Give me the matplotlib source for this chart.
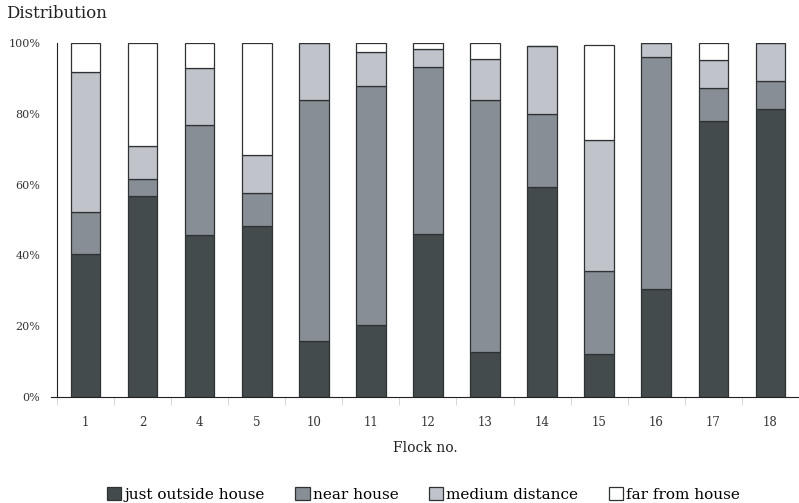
import matplotlib
matplotlib.use("Agg")
import matplotlib.pyplot as plt
import numpy as np

plt.rcParams['font.family'] = ['DejaVu Serif']

flocks = ['1', '2', '4', '5', '10', '11', '12', '13', '14', '15', '16', '17', '18']
just_outside = [40.4, 56.8, 45.7, 48.4, 15.9, 20.4, 46.0, 12.6, 59.4, 12.1, 30.4, 77.9, 81.3]
near_house = [11.9, 4.7, 31.0, 9.2, 68.0, 67.5, 47.1, 71.3, 20.5, 23.6, 65.7, 9.3, 8.1]
medium_dist = [39.6, 9.5, 16.3, 10.8, 16.1, 9.6, 5.3, 11.5, 19.3, 36.9, 3.8, 8.0, 10.6]
far_house = [8.1, 29.0, 7.0, 31.6, 0.0, 2.5, 1.6, 4.6, 0.0, 26.8, 0.0, 4.8, 0.0]

series = [just_outside, near_house, medium_dist, far_house]
names = ['just outside house', 'near house', 'medium distance', 'far from house']
colors = ['#434b4d', '#878e95', '#c0c3ca', '#ffffff']

fig = plt.figure(figsize=(7.99, 5.03), dpi=100)
ax = fig.add_axes([0.0638, 0.2107, 0.9362, 0.7038])

x = np.arange(len(flocks))
bottom = np.zeros(len(flocks))
for vals, name, col in zip(series, names, colors):
    vals = np.array(vals)
    ax.bar(x, vals, width=0.52, bottom=bottom, color=col, edgecolor='#2e3233',
           linewidth=0.9, label=name)
    bottom += vals

ax.set_xlim(-0.604, 12.382)
ax.set_ylim(0, 100)

for s in ['top', 'right']:
    ax.spines[s].set_visible(False)
ax.spines['left'].set_position(('data', -0.5))
ax.spines['left'].set_color('#222222')
ax.spines['bottom'].set_color('#222222')

ax.set_yticks([0, 20, 40, 60, 80, 100])
ax.set_yticklabels(['0%', '20%', '40%', '60%', '80%', '100%'])
ax.tick_params(axis='y', length=0, pad=12, labelsize=8, labelcolor='#333333')

ax.set_xticks(x)
ax.set_xticklabels(flocks)
ax.set_xticks(np.arange(-0.5, 13, 1.0), minor=True)
ax.tick_params(axis='x', which='major', length=0, pad=14, labelsize=8.5, labelcolor='#333333')
ax.tick_params(axis='x', which='minor', length=6, width=0.6, color='#d0d0d0')

ax.set_xlabel('Flock no.', fontsize=10, color='#222222', labelpad=8)
fig.text(0.007, 1 - 18.5 / 503, 'Distribution', fontsize=12, color='#222222',
         va='baseline', ha='left')

fig.legend(loc='center', bbox_to_anchor=(0.53, 0.017), ncol=4, frameon=False,
           fontsize=11, handlelength=0.92, handleheight=0.92, handletextpad=0.2,
           columnspacing=2.0, borderaxespad=0)

fig.savefig('out.png', dpi=100)
